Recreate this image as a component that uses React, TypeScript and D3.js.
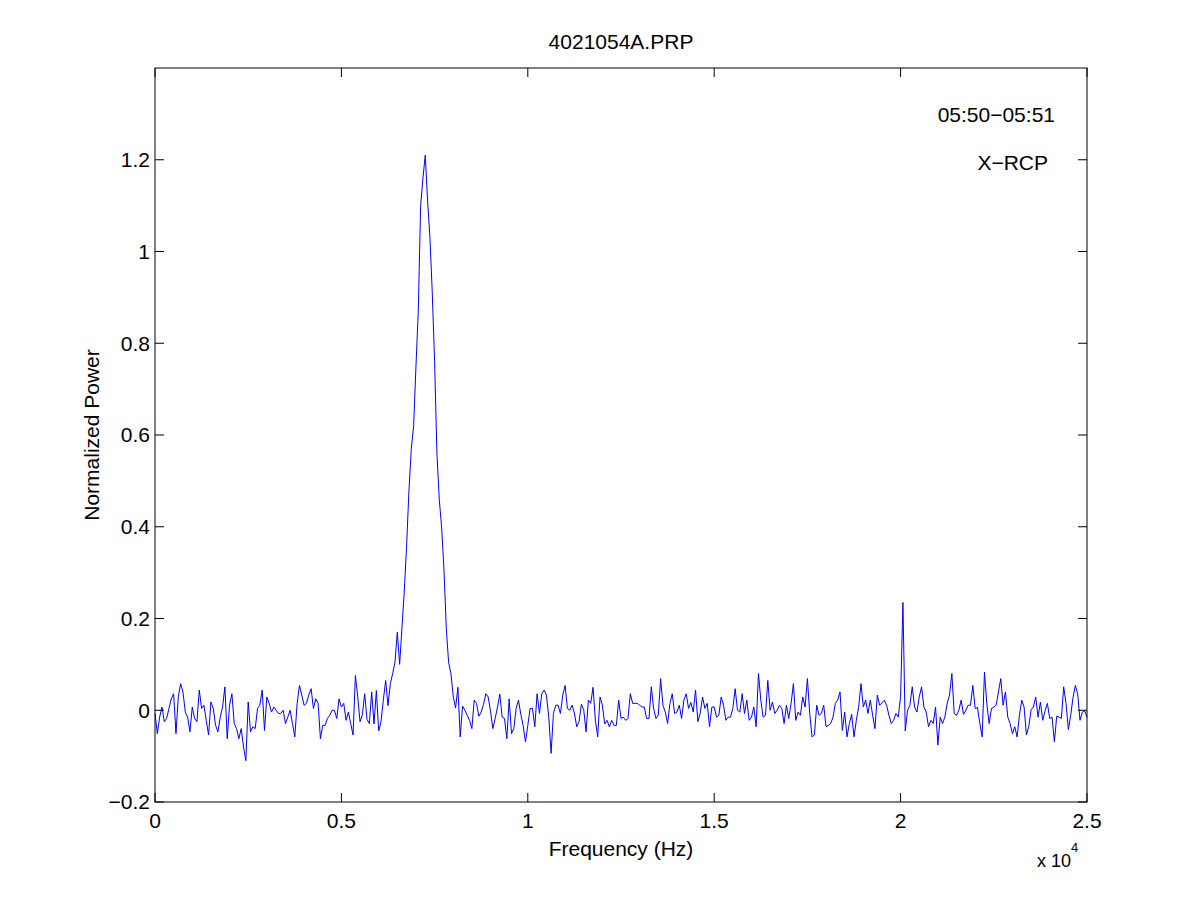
import React from "react";
import * as d3 from "d3";

// spectrum bins, 62.5 Hz apart
const binStep = 62.5;

const powerLow = [
  -0.007, -0.051, -0.015, 0.007, -0.025, -0.018, 0.004, 0.025, 0.036, -0.051,
  0.029, 0.058, 0.04, -0.004, -0.015, -0.047, 0.007, -0.018, -0.025, 0.044,
  0.004, 0.011, -0.022, -0.054, 0.018, 0.004, -0.033, -0.047, -0.015, 0.007,
  0.051, -0.062, 0.011, 0.036, -0.029, -0.04, -0.062, -0.04, -0.08, -0.11,
  0.018, -0.047, -0.036, -0.04, 0.004, 0.011, 0.044, -0.044, 0.029, 0.015,
  -0.004, 0.007, 0.0, -0.007, -0.007, 0.0, -0.029, -0.015, 0.0, -0.029,
  -0.058, 0.015, 0.054, 0.033, 0.011, 0.015, 0.033, 0.047, 0.004, 0.025,
  0.015, -0.062, -0.033, -0.033, -0.018, -0.011, 0.0, 0.0, -0.018, 0.025,
];

const powerPeak = [
  0.007, 0.015, -0.022, -0.004, -0.029, -0.054, 0.076, 0.03, -0.025, -0.01,
  0.036, -0.02, -0.029, 0.04, -0.03, 0.043, -0.045, -0.025, 0.022, 0.065,
  0.01, 0.058, 0.08, 0.105, 0.17, 0.1, 0.18, 0.26, 0.36, 0.48,
  0.57, 0.62, 0.75, 0.87, 1.1, 1.16, 1.21, 1.11, 1.03, 0.91,
  0.76, 0.56, 0.46, 0.4, 0.31, 0.18, 0.105, 0.08, 0.03, 0.005,
];

const powerMid = [
  0.05, -0.058, 0.009, 0.0, -0.011, -0.022, -0.04, 0.022, 0.015, -0.013,
  -0.004, 0.013, 0.036, 0.029, -0.002, -0.04, -0.018, 0.007, 0.035, -0.015,
  -0.018, -0.062, 0.025, -0.051, -0.04, 0.004, 0.022, -0.009, -0.033, -0.069,
  -0.033, 0.004, 0.004, -0.036, 0.036, -0.007, 0.036, 0.044, 0.033, -0.015,
  -0.094, -0.007, 0.011, 0.011, -0.007, 0.033, 0.054, 0.004, 0.0, 0.011,
  -0.006, -0.036, -0.025, 0.013, 0.001, -0.047, 0.022, 0.015, 0.05, -0.022,
  -0.058, 0.029, 0.011, -0.03, -0.022, -0.036, -0.022, -0.033, -0.033, 0.022,
  -0.018, -0.015, -0.022, -0.018, 0.036, 0.015, 0.015, 0.015, 0.011,
];

const powerHigh = [
  0.007, 0.007, -0.018, -0.018, 0.051, 0.004, -0.018, -0.011, 0.069, 0.011,
  -0.004, -0.029, 0.015, 0.036, -0.007, -0.004, 0.011, -0.018, 0.022, 0.036,
  0.004, 0.017, -0.004, 0.044, -0.025, -0.006, 0.029, 0.004, 0.015, -0.036,
  0.007, 0.007, -0.015, -0.011, 0.029, 0.011, -0.022, -0.015, -0.015, 0.004,
  0.047, 0.0, -0.004, 0.036, -0.007, 0.022, -0.022, -0.015, 0.007, -0.036,
  0.08, 0.022, -0.015, -0.011, 0.065, 0.0, 0.018, -0.007, 0.0, 0.011,
  0.004, -0.029, 0.011, -0.018, 0.015, 0.058, -0.022, -0.004, -0.011, 0.029,
  0.007, 0.069, -0.007, -0.058, -0.054, 0.011, -0.011, -0.007, 0.011, -0.036,
  -0.033,
];

// includes the narrow line at 2e4 Hz
const powerSpur = [
  -0.029, -0.015, 0.015, 0.022, 0.04, -0.044, -0.004, -0.058, -0.029, -0.009,
  -0.058, -0.022, 0.007, 0.058, 0.007, 0.022, -0.007, 0.022, -0.011, -0.04,
  0.033, 0.011, 0.016, 0.022, 0.011, -0.011, -0.029, -0.022, -0.007, -0.015,
  0.03, 0.235, -0.045, 0.0, 0.011, 0.051, 0.007, -0.004, 0.029, 0.051,
  0.007, -0.004, -0.036, -0.022, -0.029, 0.007, -0.076, -0.015, -0.029, -0.015,
  0.015, 0.033, 0.08, -0.007, -0.011, 0.0, 0.022, -0.009, 0.0, 0.011,
  0.011, 0.054, 0.004, 0.006, -0.029, -0.058, 0.083, 0.015, -0.029, 0.004,
  0.007, 0.011, 0.04, 0.069, 0.011, 0.04, -0.015, -0.029, -0.051, -0.036,
  -0.058, -0.011,
];

const powerEnd = [
  0.022, 0.007, -0.054, -0.036, 0.001, 0.007, 0.029, -0.015, 0.018, -0.022,
  -0.001, 0.015, -0.018, -0.015, -0.069, -0.013, -0.015, -0.018, 0.051, 0.015,
  -0.042, -0.011, 0.028, 0.054, 0.036, -0.022, -0.004, -0.001, -0.015,
];

const xTicks = [0, 5000, 10000, 15000, 20000, 25000];
const yTicks = [-0.2, 0, 0.2, 0.4, 0.6, 0.8, 1, 1.2];

const title = "4021054A.PRP";
const timeLabel = "05:50\u221205:51";
const polLabel = "X\u2212RCP";

const power = [
  ...powerLow,
  ...powerPeak,
  ...powerMid,
  ...powerHigh,
  ...powerSpur,
  ...powerEnd,
];
const points: [number, number][] = power.map((p, i) => [i * binStep, p]);

export default function App() {
  const width = 1201;
  const height = 901;
  const margin = { top: 68, right: 114, bottom: 99, left: 155 };
  const innerW = width - margin.left - margin.right;
  const innerH = height - margin.top - margin.bottom;
  const tickLen = 9;
  const fs = 21;
  const font = "'Liberation Sans', Arial, Helvetica, sans-serif";

  const x = d3.scaleLinear().domain([0, 25000]).range([0, innerW]);
  const y = d3.scaleLinear().domain([-0.2, 1.4]).range([innerH, 0]);

  const line = d3
    .line<[number, number]>()
    .x((d) => x(d[0]))
    .y((d) => y(d[1]));

  const fmtY = (v: number) => (v < 0 ? "\u2212" : "") + String(Math.abs(v));
  const fmtX = (v: number) => String(v / 10000);

  return (
    <svg
      width={width}
      height={height}
      style={{ position: "absolute", left: 0, top: 0, background: "#fff" }}
      fontFamily={font}
    >
      <text x={margin.left + innerW / 2} y={49} textAnchor="middle" fontSize={fs}>
        {title}
      </text>
      <g transform={`translate(${margin.left},${margin.top})`}>
        <rect width={innerW} height={innerH} fill="#fff" />
        <path
          d={line(points) ?? ""}
          fill="none"
          stroke="#0000ff"
          strokeWidth={1}
        />
        {xTicks.map((t) => (
          <g key={"x" + t}>
            <line x1={x(t)} x2={x(t)} y1={innerH} y2={innerH - tickLen} stroke="#000" />
            <line x1={x(t)} x2={x(t)} y1={0} y2={tickLen} stroke="#000" />
            <text x={x(t)} y={innerH + 26} textAnchor="middle" fontSize={fs}>
              {fmtX(t)}
            </text>
          </g>
        ))}
        {yTicks.map((t) => (
          <g key={"y" + t}>
            <line x1={0} x2={tickLen} y1={y(t)} y2={y(t)} stroke="#000" />
            <line x1={innerW} x2={innerW - tickLen} y1={y(t)} y2={y(t)} stroke="#000" />
            <text x={-5} y={y(t)} dy="0.35em" textAnchor="end" fontSize={fs}>
              {fmtY(t)}
            </text>
          </g>
        ))}
        <rect width={innerW} height={innerH} fill="none" stroke="#000" strokeWidth={1} />
        <text x={900} y={54} textAnchor="end" fontSize={fs}>
          {timeLabel}
        </text>
        <text x={893} y={102} textAnchor="end" fontSize={fs}>
          {polLabel}
        </text>
      </g>
      <text x={margin.left + innerW / 2} y={856} textAnchor="middle" fontSize={fs}>
        Frequency (Hz)
      </text>
      <text x={1037} y={867} fontSize={18}>
        x 10
        <tspan fontSize={13} dy={-15}>
          4
        </tspan>
      </text>
      <text
        transform={`translate(99,${margin.top + innerH / 2}) rotate(-90)`}
        textAnchor="middle"
        fontSize={fs}
      >
        Normalized Power
      </text>
    </svg>
  );
}
